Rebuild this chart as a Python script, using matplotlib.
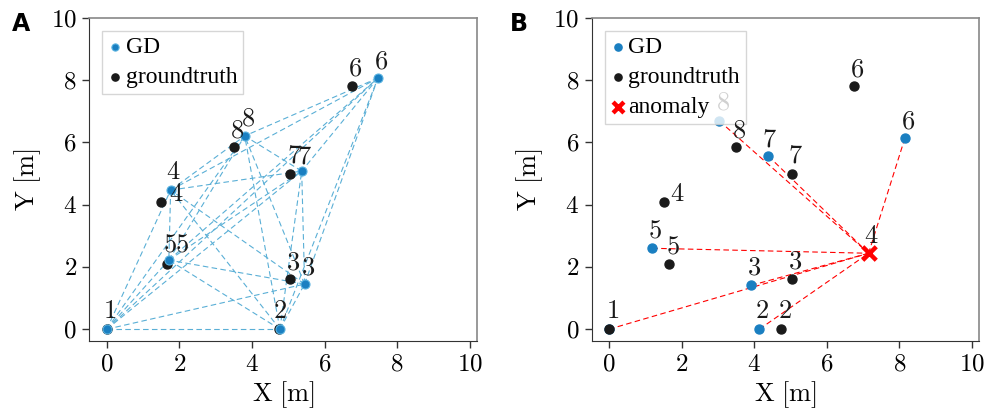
import matplotlib
matplotlib.use("Agg")
import matplotlib.pyplot as plt
from matplotlib.ticker import FuncFormatter
from itertools import combinations

plt.rcParams['font.family'] = ['Liberation Serif', 'DejaVu Serif']
plt.rcParams['mathtext.fontset'] = 'cm'

node_ids = [1, 2, 3, 4, 5, 6, 7, 8]
gt_x = [0.0, 4.75, 5.05, 1.50, 1.65, 6.75, 5.05, 3.50]
gt_y = [0.0, 0.0, 1.60, 4.10, 2.10, 7.80, 5.00, 5.85]

gdA_x = [0.0, 4.77, 5.45, 1.76, 1.71, 7.47, 5.37, 3.80]
gdA_y = [0.0, 0.0, 1.45, 4.47, 2.22, 8.07, 5.08, 6.21]

gdB_x = [0.0, 4.14, 3.92, 7.15, 1.19, 8.15, 4.39, 3.04]
gdB_y = [0.0, 0.0, 1.41, 2.44, 2.60, 6.14, 5.56, 6.69]
anomaly_id = 4

ticks = [0, 2, 4, 6, 8, 10]

# label offsets in pixels (dx, dy)
gt_offA = {1: (3, 17), 2: (1, 17), 3: (3, 16), 4: (15, 7), 5: (3, 18), 6: (3, 17), 7: (4, 17), 8: (3, 16)}
gd_offA = {1: (3, 17), 2: (1, 17), 3: (3, 16), 4: (3, 17), 5: (13, 15), 6: (3, 16), 7: (3, 14), 8: (3, 16)}
gt_offB = {1: (3, 17), 2: (3, 17), 3: (3, 17), 4: (14, 7), 5: (4, 16), 6: (3, 16), 7: (3, 17), 8: (3, 16)}
gd_offB = {1: (3, 17), 2: (3, 17), 3: (3, 17), 4: (3, 16), 5: (3, 17), 6: (3, 16), 7: (1, 16), 8: (4, 18)}

BLUE = '#1a7fc1'
LBLUE = '#5aafd6'
GTC = '#1a1a1a'

fig = plt.figure(figsize=(9.85, 4.12), dpi=100)
axA = fig.add_axes([0.0907, 0.1723, 0.3936, 0.784])
axB = fig.add_axes([0.6007, 0.1723, 0.3935, 0.784])


def style(ax):
    ax.set_xlim(-0.48, 10.2)
    ax.set_ylim(-0.38, 10)
    ax.set_xticks(ticks)
    ax.set_yticks(ticks)
    fmt = FuncFormatter(lambda v, p: r'$%d$' % v)
    ax.xaxis.set_major_formatter(fmt)
    ax.yaxis.set_major_formatter(fmt)
    ax.tick_params(labelsize=18, length=5, width=1, color='#333333', pad=4)
    ax.set_xlabel(r'$\mathrm{X\ [m]}$', fontsize=19, labelpad=3)
    ax.set_ylabel(r'$\mathrm{Y\ [m]}$', fontsize=19, labelpad=6)
    for s in ['left', 'bottom']:
        ax.spines[s].set_color('#333333')
    for s in ['top', 'right']:
        ax.spines[s].set_color('#888888')
        ax.spines[s].set_linewidth(1.2)
    ax.tick_params(top=False, right=False)


def label(ax, x, y, txt, off, color='#1a1a1a', z=6):
    ax.annotate(r'$%d$' % txt, (x, y), xytext=off, textcoords='offset pixels',
                ha='center', va='center', fontsize=19, color=color, zorder=z)


leg_kw = dict(loc='upper left', fontsize=17, handlelength=0.6,
              handletextpad=0.15, borderpad=0.25, labelspacing=0.35,
              borderaxespad=0.55, markerscale=0.8, fancybox=False,
              framealpha=0.8, edgecolor='#cccccc')

# Panel A
for i, j in combinations(range(len(node_ids)), 2):
    axA.plot([gdA_x[i], gdA_x[j]], [gdA_y[i], gdA_y[j]], ls=(0, (5, 3)),
             color=LBLUE, lw=0.8, zorder=1)
axA.scatter(gt_x, gt_y, s=42, color=GTC, zorder=3, label='groundtruth')
axA.scatter(gdA_x, gdA_y, s=42, color=BLUE, edgecolor='#5ab3e0', linewidth=0.8,
            zorder=4, label='GD')
for k, n in enumerate(node_ids):
    label(axA, gt_x[k], gt_y[k], n, gt_offA[n])
    if n not in (1, 2):
        label(axA, gdA_x[k], gdA_y[k], n, gd_offA[n])
style(axA)
h, l = axA.get_legend_handles_labels()
legA = axA.legend([h[1], h[0]], [l[1], l[0]], **leg_kw)

# Panel B
ai = node_ids.index(anomaly_id)
for k, n in enumerate(node_ids):
    if n == anomaly_id:
        continue
    axB.plot([gdB_x[k], gdB_x[ai]], [gdB_y[k], gdB_y[ai]], ls=(0, (5, 3)),
             color='#ff0000', lw=0.8, zorder=1)
gd_idx = [k for k, n in enumerate(node_ids) if n != anomaly_id]
axB.scatter([gdB_x[k] for k in gd_idx], [gdB_y[k] for k in gd_idx], s=42,
            color=BLUE, zorder=3, label='GD')
axB.scatter(gt_x, gt_y, s=42, color=GTC, zorder=4, label='groundtruth')
axB.scatter([gdB_x[ai]], [gdB_y[ai]], marker='x', s=95, color='#ff0000',
            linewidths=3.2, zorder=5, label='anomaly')
for k, n in enumerate(node_ids):
    label(axB, gt_x[k], gt_y[k], n, gt_offB[n])
    if n != 1:
        label(axB, gdB_x[k], gdB_y[k], n, gd_offB[n], z=2 if n == 8 else 6)
style(axB)
legB = axB.legend(**leg_kw)
legB.set_zorder(4.5)

fig.text(0.012, 0.925, 'A', fontsize=17, fontweight='bold', family='DejaVu Sans')
fig.text(0.518, 0.925, 'B', fontsize=17, fontweight='bold', family='DejaVu Sans')

fig.savefig('out.png', dpi=100)
